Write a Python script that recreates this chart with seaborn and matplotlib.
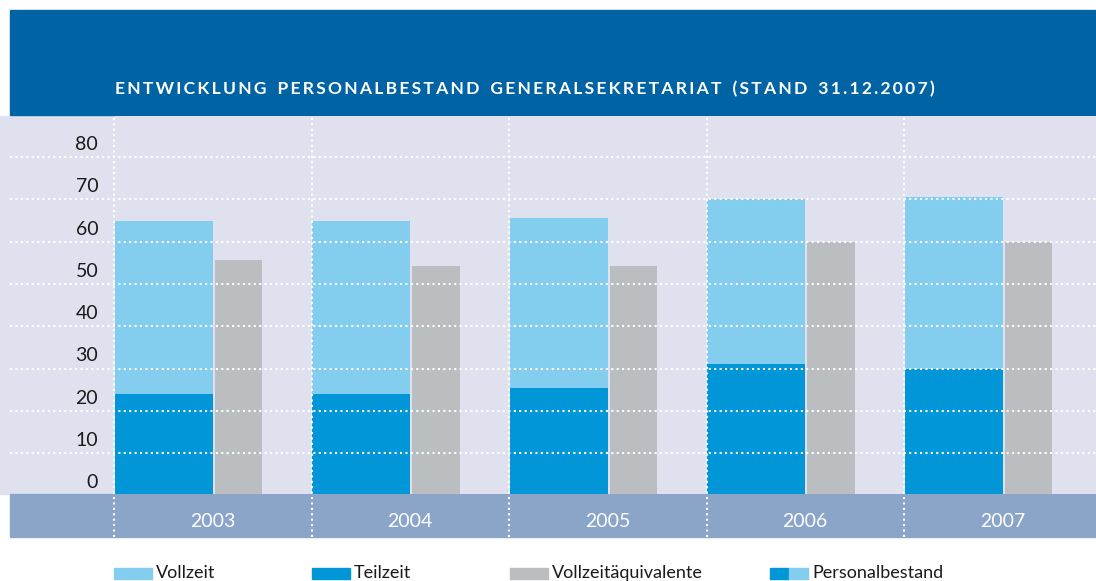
import numpy as np
import pandas as pd
import matplotlib
matplotlib.use("Agg")
import matplotlib.pyplot as plt
from matplotlib.patches import Rectangle
import seaborn as sns

# data
years = ["2003", "2004", "2005", "2006", "2007"]
teilzeit = [24, 24, 25.5, 31, 30]
vollzeit = [41, 41, 40, 39, 40.5]
vollzeitaequivalente = [55.6, 54.3, 54.3, 59.9, 59.9]
y_ticks = [0, 10, 20, 30, 40, 50, 60, 70, 80]

title = "ENTWICKLUNG PERSONALBESTAND GENERALSEKRETARIAT (STAND 31.12.2007)"

# colours
LIGHT = "#83cdee"
DARK = "#0096d7"
GRAY = "#bbbec1"
BAND = "#0064a4"
LAVENDER = "#dfe2ee"
BOTTOM = "#8ba5c9"

W, H = 1096, 581

df = pd.DataFrame({
    "pos": np.arange(len(years)),
    "year": years,
    "teilzeit": teilzeit,
    "vollzeit": vollzeit,
    "fte": vollzeitaequivalente,
})
df["total"] = df["teilzeit"] + df["vollzeit"]
df["pos_stack"] = df["pos"] + 0.2525
df["pos_fte"] = df["pos"] + 0.63

sns.set_theme(style="white")
plt.rcParams["font.family"] = ["Lato", "DejaVu Sans"]

fig = plt.figure(figsize=(W / 100, H / 100), dpi=100)


def fx(px):
    return px / W


def fy(py):
    return 1 - py / H


# background blocks in figure space (behind the axes)
fig.patches.append(Rectangle((fx(0), fy(494)), 1, (494 - 116) / H,
                             transform=fig.transFigure, color=LAVENDER, zorder=-5))
fig.patches.append(Rectangle((fx(10), fy(115)), fx(W - 10), 105 / H,
                             transform=fig.transFigure, color=BAND, zorder=-5))
fig.patches.append(Rectangle((fx(10), fy(537)), fx(W - 10), 43 / H,
                             transform=fig.transFigure, color=BOTTOM, zorder=-5))

ax = fig.add_axes([fx(114), fy(494), fx(W - 114), (494 - 116) / H])
ax.set_facecolor(LAVENDER)
ax.set_zorder(1)

sns.barplot(data=df, x="pos_stack", y="total", native_scale=True, width=0.495,
            color=LIGHT, saturation=1, errorbar=None, linewidth=0, ax=ax, zorder=2)
sns.barplot(data=df, x="pos_stack", y="teilzeit", native_scale=True, width=0.495,
            color=DARK, saturation=1, errorbar=None, linewidth=0, ax=ax, zorder=2)
sns.barplot(data=df, x="pos_fte", y="fte", native_scale=True, width=0.24,
            color=GRAY, saturation=1, errorbar=None, linewidth=0, ax=ax, zorder=2)

px_per_unit = 4.229
ax.set_xlim(0, (W - 114) / 197.5)
ax.set_ylim(0.35, 0.35 + 378 / px_per_unit)
ax.set_xticks([])
ax.set_yticks([])
ax.set_xlabel("")
ax.set_ylabel("")
for s in ax.spines.values():
    s.set_visible(False)

dots = (0, (1, 1.6))
# horizontal dotted grid, running into the label column
for v in y_ticks[1:]:
    ax.axhline(v, xmin=-104 / 982, xmax=1, color="white", lw=1.5,
               ls=dots, clip_on=False, zorder=3)
# vertical dotted separators reaching into the year band
for p in df["pos"]:
    ax.axvline(p, ymin=-43 / 378, ymax=1, color="white", lw=1.5,
               ls=dots, clip_on=False, zorder=3)

# y labels sit above their grid lines
for v in y_ticks:
    ax.text(-0.08, v + 3, str(v), ha="right", va="center", fontsize=14,
            color="#1a1a1a", clip_on=False)

# year labels in the bottom band
for p, yr in zip(df["pos"], df["year"]):
    ax.text(p + 0.5, -26 / px_per_unit, yr, ha="center", va="center",
            fontsize=14, color="white", clip_on=False)

# spaced title
spaced = "\u2009".join(title).replace("\u2009 \u2009", "\u2009\u2009 \u2009")
fig.text(fx(115), fy(89), spaced, ha="left", va="center", fontsize=12.6,
         fontweight="bold", color="white")

# legend row
leg_y = fy(579)
leg_h = 11 / H
items = [(114, [LIGHT], "Vollzeit"), (312, [DARK], "Teilzeit"),
         (510, [GRAY], "Vollzeitäquivalente"), (770, [DARK, LIGHT], "Personalbestand")]
for x0, cols, label in items:
    seg = 38 / len(cols)
    for k, c in enumerate(cols):
        fig.patches.append(Rectangle((fx(x0 + k * seg), leg_y), fx(seg), leg_h,
                                     transform=fig.transFigure, color=c))
    fig.text(fx(x0 + 42), fy(573), label, ha="left", va="center",
             fontsize=13, color="#1a1a1a")

fig.savefig("out.png", dpi=100, facecolor="white")
